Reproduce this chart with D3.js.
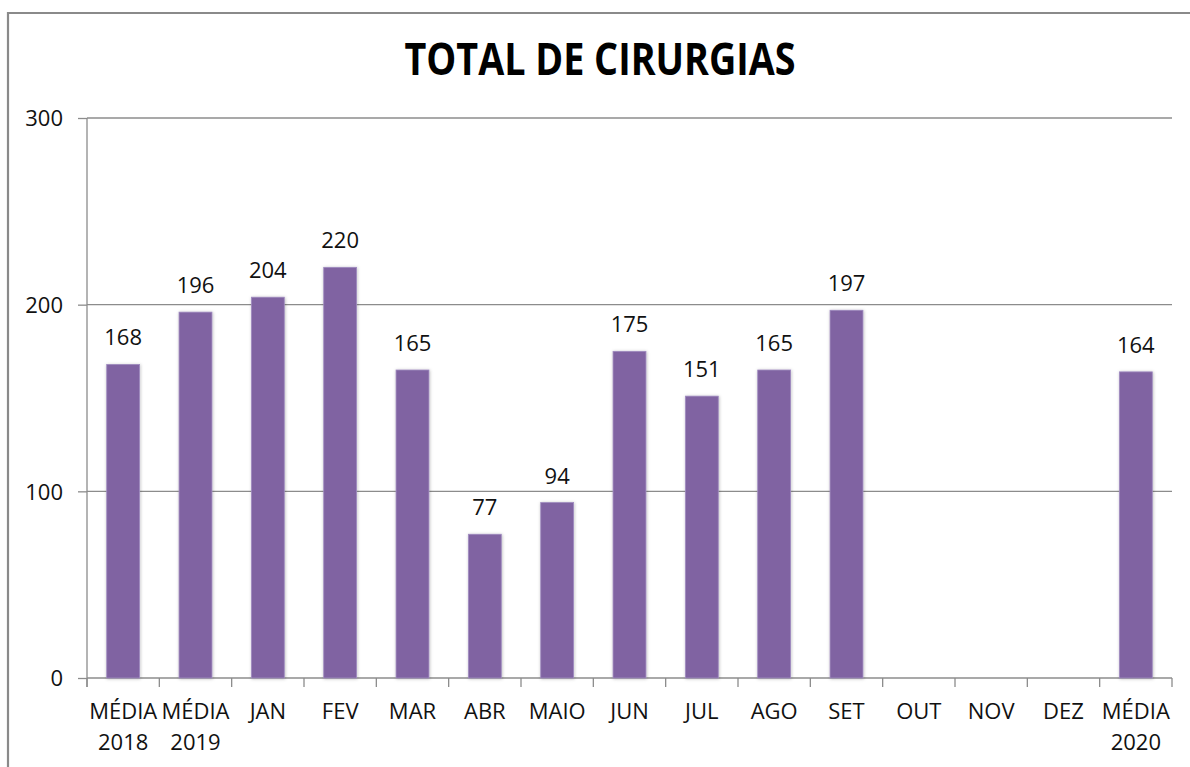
<!DOCTYPE html>
<html>
<head>
<meta charset="utf-8">
<script src="https://cdn.jsdelivr.net/npm/d3@7/dist/d3.min.js"></script>
<style>
    body { margin: 0; background: #fff; }
    text { font-family: "Open Sans", "Liberation Sans", Arial, sans-serif; fill: #111; }
</style>
</head>
<body>
<div id="chart"></div>
<script>

const categories = [ ["MÉDIA","2018"], ["MÉDIA","2019"], ["JAN"], ["FEV"], ["MAR"], ["ABR"], ["MAIO"],
    ["JUN"], ["JUL"], ["AGO"], ["SET"], ["OUT"], ["NOV"], ["DEZ"], ["MÉDIA","2020"] ];
const values = [ 168, 196, 204, 220, 165, 77, 94, 175, 151, 165, 197, null, null, null, 164 ];
const yTicks = [ 0, 100, 200, 300 ];
const title = "TOTAL DE CIRURGIAS";

var svgWidth = 1190, svgHeight = 767;
var margin = {top: 118, right: 18, bottom: 89, left: 87};
var width = svgWidth - margin.left - margin.right;
var height = svgHeight - margin.top - margin.bottom;

var svg = d3.select("#chart").append("svg")
    .attr("width", svgWidth)
    .attr("height", svgHeight);

// soft grey glow round the bars
var filter = svg.append("defs").append("filter")
    .attr("id", "barShadow")
    .attr("x", "-30%").attr("y", "-10%")
    .attr("width", "160%").attr("height", "120%");
filter.append("feDropShadow")
    .attr("dx", 0.5).attr("dy", 0.5)
    .attr("stdDeviation", 1.6)
    .attr("flood-color", "#000")
    .attr("flood-opacity", 0.28);

// outer frame (only top and left are in view)
svg.append("path")
    .attr("d", "M8," + svgHeight + "V13H" + svgWidth)
    .attr("fill", "none")
    .attr("stroke", "#8a8a8a")
    .attr("stroke-width", 2.2);

svg.append("text")
    .attr("x", 600)
    .attr("y", 75)
    .attr("text-anchor", "middle")
    .attr("textLength", 391)
    .attr("lengthAdjust", "spacingAndGlyphs")
    .style("font-size", "44px")
    .style("font-weight", "bold")
    .style("fill", "#000")
    .text(title);

var plotArea = svg.append("g")
    .attr("transform", "translate(" + margin.left + "," + margin.top + ")");

var xscale = d3.scaleBand()
    .domain( d3.range(categories.length) )
    .range( [0, width] )
    .paddingInner(0.545)
    .paddingOuter(0.2725);

var yscale = d3.scaleLinear()
    .domain( [0, 300] )
    .range( [height, 0] );

// gridlines
plotArea.selectAll(".grid")
    .data( yTicks.filter(d => d > 0) )
    .enter().append("line")
    .attr("class", "grid")
    .attr("x1", 0).attr("x2", width)
    .attr("y1", d => yscale(d)).attr("y2", d => yscale(d))
    .attr("stroke", "#8c8c8c")
    .attr("stroke-width", 1.3);

// y axis
var yAxis = d3.axisLeft( yscale )
    .tickValues( yTicks )
    .tickSize( 9 )
    .tickPadding( 15 );

var gY = plotArea.append("g")
    .attr("class", "axis--y")
    .call( yAxis );
gY.select(".domain").remove();
gY.append("line")
    .attr("x1", 0).attr("x2", 0)
    .attr("y1", 0).attr("y2", height + 9)
    .attr("stroke", "#8c8c8c")
    .attr("stroke-width", 1.3);
gY.selectAll(".tick line").attr("stroke", "#8c8c8c").attr("stroke-width", 1.3);
gY.selectAll(".tick text")
    .style("font-size", "22px")
    .style("font-family", "'Open Sans', 'Liberation Sans', sans-serif")
    .style("fill", "#111")
    .attr("dy", "0.36em");

// x axis line and tick marks on band edges
var edges = d3.range(categories.length + 1).map(i => i * width / categories.length);
plotArea.append("line")
    .attr("x1", 0).attr("x2", width)
    .attr("y1", height).attr("y2", height)
    .attr("stroke", "#8c8c8c")
    .attr("stroke-width", 1.3);
plotArea.selectAll(".xtick")
    .data( edges )
    .enter().append("line")
    .attr("class", "xtick")
    .attr("x1", d => d).attr("x2", d => d)
    .attr("y1", height).attr("y2", height + 9)
    .attr("stroke", "#8c8c8c")
    .attr("stroke-width", 1.3);

// category labels
var labels = plotArea.selectAll(".xlabel")
    .data( categories )
    .enter().append("text")
    .attr("class", "xlabel")
    .attr("text-anchor", "middle")
    .attr("transform", (d, i) => "translate(" + (xscale(i) + xscale.bandwidth() / 2) + "," + (height + 41) + ")")
    .style("font-size", "22px");
labels.selectAll("tspan")
    .data( d => d )
    .enter().append("tspan")
    .attr("x", 0)
    .attr("y", (d, i) => i * 31)
    .text( d => d );

var barData = values.map( (v, i) => ({ i: i, v: v }) ).filter( d => d.v !== null );

// bars
plotArea.selectAll(".bar")
    .data( barData )
    .enter().append("rect")
    .attr("class", "bar")
    .attr("x", d => xscale(d.i))
    .attr("y", d => yscale(d.v))
    .attr("width", xscale.bandwidth())
    .attr("height", d => height - yscale(d.v))
    .attr("fill", "#8064a2")
    .attr("stroke", "#a08cc0")
    .attr("stroke-width", 0.8)
    .attr("filter", "url(#barShadow)");

// value labels
plotArea.selectAll(".value")
    .data( barData )
    .enter().append("text")
    .attr("class", "value")
    .attr("x", d => xscale(d.i) + xscale.bandwidth() / 2)
    .attr("y", d => yscale(d.v) - 19)
    .attr("text-anchor", "middle")
    .style("font-size", "22px")
    .text( d => d.v );

</script>
</body>
</html>
